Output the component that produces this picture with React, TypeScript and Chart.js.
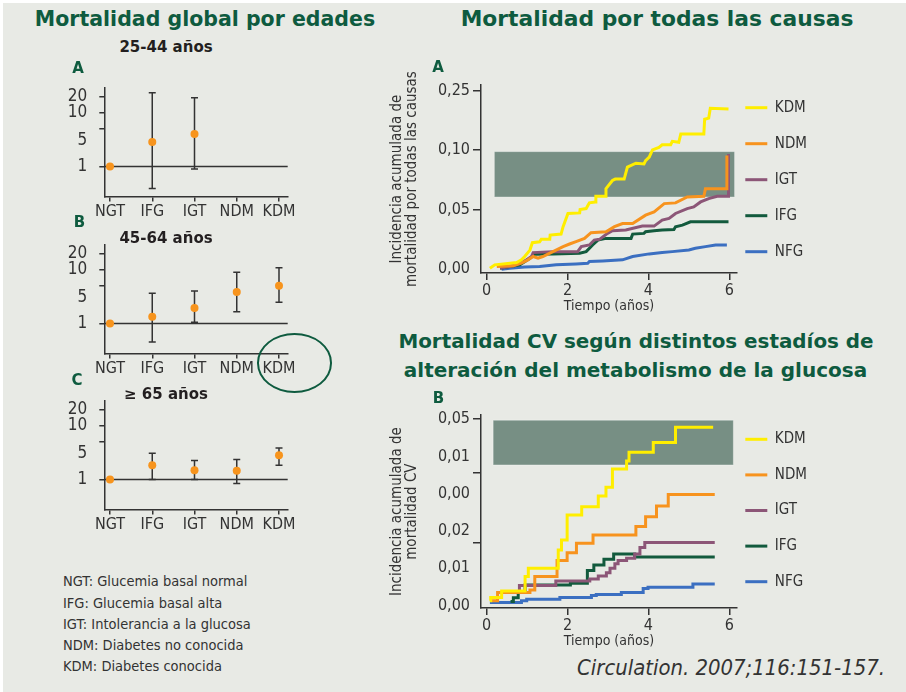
import React, { useEffect, useRef } from 'react';
import { Chart, registerables } from 'chart.js';

Chart.register(...registerables);

// ---------- data: left panels (hazard ratio, log scale) ----------
const groups = ['NGT', 'IFG', 'IGT', 'NDM', 'KDM'];
const logTicks = [1, 5, 10, 20];

const hr2544 = [1, 2.85, 4.06, null, null];
const lo2544 = [null, 0.385, 0.9, null, null];
const hi2544 = [null, 23.9, 19.3, null, null];

const hr4564 = [1, 1.33, 1.94, 3.87, 5.07];
const lo4564 = [null, 0.45, 1.05, 1.65, 2.48];
const hi4564 = [null, 3.65, 4.04, 9.05, 11.0];

const hr65 = [1, 1.85, 1.49, 1.45, 2.84];
const lo65 = [null, 1.0, 1.0, 0.84, 1.85];
const hi65 = [null, 3.1, 2.26, 2.36, 3.89];

// ---------- data: all-cause cumulative incidence ----------
const timeTicks = [0, 2, 4, 6];
const allTicks = [0, 0.05, 0.1, 0.15];
const allTickLabels = ['0,00', '0,05', '0,10', '0,25'];
const allTickMarks = [0.05, 0.1, 0.15];

const allKdmT = [0.08, 0.2, 0.74, 0.86, 0.94, 1.07, 1.13, 1.31, 1.35, 1.56, 1.57, 1.84, 1.89, 2.01, 2.3, 2.31, 2.46, 2.54, 2.69, 2.7, 2.93, 2.95, 3.11, 3.18, 3.4, 3.48, 3.69, 3.89, 3.93, 4.02, 4.1, 4.26, 4.34, 4.55, 4.59, 4.75, 4.8, 5.37, 5.39, 5.49, 5.53, 5.98];
const allKdmY = [0.0008, 0.0036, 0.0056, 0.0078, 0.0106, 0.016, 0.0222, 0.023, 0.025, 0.025, 0.0286, 0.0294, 0.0356, 0.0467, 0.0472, 0.05, 0.0508, 0.0556, 0.0564, 0.0611, 0.0611, 0.0675, 0.0744, 0.0756, 0.0756, 0.0856, 0.0889, 0.0883, 0.0911, 0.0939, 0.1, 0.1022, 0.1044, 0.1044, 0.1072, 0.1064, 0.1133, 0.1133, 0.1258, 0.1267, 0.135, 0.1344];

const allNdmT = [0.25, 0.66, 0.86, 1.02, 1.15, 1.27, 1.39, 1.64, 1.89, 2.05, 2.21, 2.42, 2.58, 2.95, 3.16, 3.36, 3.61, 3.93, 4.14, 4.39, 4.67, 4.96, 5.37, 5.41, 5.92, 5.94];
const allNdmY = [0.0022, 0.0028, 0.005, 0.0078, 0.0106, 0.0092, 0.0106, 0.0147, 0.0189, 0.0211, 0.0231, 0.0258, 0.0306, 0.0314, 0.0356, 0.0383, 0.0383, 0.0453, 0.0481, 0.055, 0.0556, 0.0606, 0.0611, 0.0675, 0.0675, 0.0953];

const allIgtT = [0.33, 0.66, 0.94, 1.11, 1.15, 1.64, 2.25, 2.34, 2.54, 2.66, 2.79, 2.99, 3.11, 3.44, 3.85, 4.14, 4.34, 4.51, 4.67, 4.96, 5.12, 5.29, 5.49, 5.7, 5.97, 5.98];
const allIgtY = [0.0008, 0.0028, 0.0069, 0.0106, 0.0139, 0.0147, 0.0147, 0.0189, 0.0203, 0.0244, 0.025, 0.03, 0.0322, 0.0328, 0.0361, 0.0361, 0.0411, 0.0425, 0.0467, 0.0508, 0.0522, 0.0564, 0.0592, 0.0611, 0.0611, 0.0967];

const allIfgT = [0.33, 0.82, 1.07, 1.19, 1.64, 2.3, 2.46, 2.62, 2.75, 2.95, 3.57, 3.61, 3.89, 3.93, 4.14, 4.34, 4.63, 4.67, 4.84, 5.04, 5.98];
const allIfgY = [0.0008, 0.0036, 0.0092, 0.0125, 0.0128, 0.0133, 0.0147, 0.0203, 0.0244, 0.0258, 0.0258, 0.0294, 0.03, 0.0314, 0.0322, 0.0328, 0.0333, 0.0356, 0.0369, 0.0397, 0.0397];

const allNfgT = [0.37, 0.57, 0.94, 1.31, 1.72, 2.21, 2.5, 2.54, 2.87, 3.36, 3.61, 4.02, 4.34, 4.59, 5.0, 5.16, 5.41, 5.66, 5.94];
const allNfgY = [0.0, 0.0008, 0.0017, 0.0022, 0.0036, 0.0044, 0.005, 0.0064, 0.0069, 0.0078, 0.0106, 0.0128, 0.0139, 0.0147, 0.0161, 0.0175, 0.0189, 0.0203, 0.0203];

// ---------- data: CV cumulative incidence ----------
const cvTicks = [0, 0.01, 0.0169, 0.02, 0.03, 0.0357, 0.04, 0.05];
const cvTickLabels = ['0,00', '0,01', '', '0,02', '0,00', '', '0,01', '0,05'];
const cvTickMarks = [0.0169, 0.0357, 0.05];

const cvKdmT = [0.08, 0.1, 0.37, 0.95, 1.03, 1.77, 1.85, 1.99, 2.35, 2.76, 2.95, 3.11, 3.46, 3.52, 4.12, 4.67, 5.6];
const cvKdmY = [0.0013, 0.0022, 0.0039, 0.0078, 0.01, 0.0149, 0.0176, 0.0243, 0.0265, 0.0294, 0.0317, 0.0366, 0.0388, 0.0411, 0.0437, 0.0478, 0.0478];

const cvNdmT = [0.12, 0.27, 1.07, 1.19, 1.74, 1.99, 2.22, 2.63, 3.69, 3.93, 4.2, 4.49, 5.64];
const cvNdmY = [0.0013, 0.0035, 0.0042, 0.0078, 0.0121, 0.0142, 0.0167, 0.0189, 0.0212, 0.0238, 0.0267, 0.0298, 0.0298];

const cvIgtT = [0.75, 0.81, 1.71, 2.55, 2.76, 2.96, 3.05, 3.17, 3.25, 3.46, 3.66, 3.79, 3.91, 5.64];
const cvIgtY = [0.0038, 0.0054, 0.0066, 0.0071, 0.0079, 0.0088, 0.01, 0.0112, 0.0121, 0.0127, 0.0138, 0.0156, 0.0169, 0.0169];

const cvIfgT = [0.59, 0.66, 0.78, 0.95, 2.07, 2.49, 2.65, 2.9, 3.14, 3.66, 5.64];
const cvIfgY = [0.0011, 0.0021, 0.0038, 0.0055, 0.006, 0.0094, 0.0109, 0.0124, 0.0138, 0.013, 0.013];

const cvNfgT = [0.08, 0.86, 0.99, 1.81, 2.59, 2.71, 3.33, 3.87, 3.99, 5.1, 5.64];
const cvNfgY = [0.0008, 0.0013, 0.0017, 0.0022, 0.0027, 0.003, 0.0035, 0.0046, 0.0049, 0.0058, 0.0058];

// shaded band (time from, time to, value from, value to)
const allBand = [0.19, 6.13, 0.0605, 0.0986];
const cvBand = [0.16, 6.1, 0.0377, 0.0497];

const footnotes = [
  'NGT: Glucemia basal normal',
  'IFG: Glucemia basal alta',
  'IGT: Intolerancia a la glucosa',
  'NDM: Diabetes no conocida',
  'KDM: Diabetes conocida',
];

// ---------- styles ----------
const BG = '#e8eae5';
const GREEN = '#0e5b3f';
const AXIS = '#333333';
const TEXT = '#333333';
const ORANGE = '#f7941d';
const SHADE = '#778f84';
const C_KDM = '#ffee00';
const C_NDM = '#f7931e';
const C_IGT = '#8c5677';
const C_IFG = '#125a3d';
const C_NFG = '#3b6fc1';
const FONT = "'DejaVu Sans Condensed', 'Liberation Sans Narrow', 'DejaVu Sans', sans-serif";
const TITLE_FONT = "'DejaVu Sans', sans-serif";

Chart.defaults.font.family = FONT;
Chart.defaults.color = TEXT;

function errorBarPlugin(lo: (number | null)[], hi: (number | null)[]) {
  return {
    id: 'errorBars',
    beforeDatasetsDraw(chart: any) {
      const { ctx, scales } = chart;
      const x = scales.x, y = scales.y;
      ctx.save();
      ctx.strokeStyle = AXIS;
      ctx.lineWidth = 1.5;
      lo.forEach((l, i) => {
        const h = hi[i];
        if (l == null || h == null) return;
        const px = x.getPixelForValue(i);
        const y1 = y.getPixelForValue(l);
        const y2 = y.getPixelForValue(h);
        ctx.beginPath();
        ctx.moveTo(px, y1); ctx.lineTo(px, y2);
        ctx.moveTo(px - 3.5, y1); ctx.lineTo(px + 3.5, y1);
        ctx.moveTo(px - 3.5, y2); ctx.lineTo(px + 3.5, y2);
        ctx.stroke();
      });
      ctx.restore();
    },
  };
}

const refLinePlugin = {
  id: 'refLine',
  beforeDatasetsDraw(chart: any) {
    const { ctx, chartArea, scales } = chart;
    const py = scales.y.getPixelForValue(1);
    ctx.save();
    ctx.strokeStyle = AXIS;
    ctx.lineWidth = 1.5;
    ctx.beginPath();
    ctx.moveTo(chartArea.left, py);
    ctx.lineTo(chartArea.right, py);
    ctx.stroke();
    ctx.restore();
  },
};

function bandPlugin(band: number[]) {
  return {
    id: 'band',
    beforeDatasetsDraw(chart: any) {
      const { ctx, scales } = chart;
      const x0 = scales.x.getPixelForValue(band[0]);
      const x1 = scales.x.getPixelForValue(band[1]);
      const y0 = scales.y.getPixelForValue(band[3]);
      const y1 = scales.y.getPixelForValue(band[2]);
      ctx.save();
      ctx.fillStyle = SHADE;
      ctx.fillRect(x0, y0, x1 - x0, y1 - y0);
      ctx.strokeStyle = 'rgba(255,255,255,0.35)';
      ctx.lineWidth = 1;
      ctx.strokeRect(x0, y0, x1 - x0, y1 - y0);
      ctx.restore();
    },
  };
}

const PANEL_PAD_TOP = 30;

function panelConfig(hr: (number | null)[], lo: (number | null)[], hi: (number | null)[]) {
  const pts: { x: number; y: number }[] = [];
  hr.forEach((v, i) => { if (v != null) pts.push({ x: i, y: v }); });
  return {
    type: 'scatter',
    data: {
      datasets: [{
        data: pts,
        backgroundColor: ORANGE,
        borderColor: ORANGE,
        pointRadius: 4,
        pointBorderWidth: 0,
      }],
    },
    options: {
      responsive: false,
      animation: false,
      devicePixelRatio: 1,
      layout: { padding: { top: PANEL_PAD_TOP, left: 0, right: 22.3, bottom: 5.5 } },
      plugins: { legend: { display: false }, tooltip: { enabled: false } },
      scales: {
        x: {
          type: 'linear',
          min: -0.135,
          max: 4.206,
          afterBuildTicks: (s: any) => { s.ticks = groups.map((_, i) => ({ value: i })); },
          afterFit: (s: any) => { s.height = 24; },
          ticks: {
            callback: (v: number) => groups[Math.round(v)],
            font: { size: 16 },
            color: TEXT,
            padding: 1,
            autoSkip: false,
            maxRotation: 0,
          },
          grid: { drawOnChartArea: false, tickLength: 5, color: AXIS, lineWidth: 1.5 },
          border: { color: AXIS, width: 1.5 },
        },
        y: {
          type: 'logarithmic',
          min: 0.274,
          max: 29.3,
          afterBuildTicks: (s: any) => { s.ticks = logTicks.map((v) => ({ value: v })); },
          afterFit: (s: any) => { s.width = 64.3; },
          ticks: {
            // the printed "5" sits below its tick mark in the source figure
            callback: (v: number) => (v === 5 ? ['', '5'] : String(v)),
            font: (c: any) => ({ size: 17, lineHeight: c.tick && c.tick.value === 5 ? '24px' : 1.2 }),
            color: TEXT,
            padding: 12,
            autoSkip: false,
          },
          grid: { drawOnChartArea: false, tickLength: 5, color: AXIS, lineWidth: 1.5 },
          border: { color: AXIS, width: 1.5 },
        },
      },
    },
    plugins: [errorBarPlugin(lo, hi), refLinePlugin],
  };
}

type Series = { label: string; t: number[]; y: number[]; color: string };

function curveConfig(opts: {
  series: Series[];
  yMin: number; yMax: number;
  yTicks: number[]; yLabels: string[]; yMarks: number[];
  yTitle: string[];
  stepped: boolean;
  band: number[];
  legendTop: number;
  legendStep: number;
}) {
  return {
    type: 'line',
    data: {
      datasets: opts.series.map((s) => ({
        label: s.label,
        data: s.t.map((x, i) => ({ x, y: s.y[i] })),
        borderColor: s.color,
        backgroundColor: s.color,
        borderWidth: 3,
        pointRadius: 0,
        tension: 0,
        fill: false,
        stepped: opts.stepped ? 'before' : false,
      })),
    },
    options: {
      responsive: false,
      animation: false,
      devicePixelRatio: 1,
      layout: { padding: { top: 25, left: 0, right: 0, bottom: 5 } },
      plugins: {
        tooltip: { enabled: false },
        legend: {
          position: 'right',
          align: 'start',
          title: { display: true, text: '', padding: 0, font: { size: 4, lineHeight: opts.legendTop + 'px' } },
          labels: {
            usePointStyle: true,
            pointStyle: 'line',
            pointStyleWidth: 22,
            padding: 8.3,
            color: TEXT,
            font: { size: 15, lineHeight: opts.legendStep + 'px' },
            generateLabels: (chart: any) => chart.data.datasets.map((ds: any, i: number) => ({
              text: [ds.label],
              fillStyle: ds.borderColor,
              strokeStyle: ds.borderColor,
              lineWidth: 3,
              pointStyle: 'line',
              hidden: false,
              datasetIndex: i,
              fontColor: TEXT,
            })),
          },
        },
      },
      scales: {
        x: {
          type: 'linear',
          min: -0.14,
          max: 6.19,
          afterBuildTicks: (s: any) => { s.ticks = timeTicks.map((v) => ({ value: v })); },
          afterFit: (s: any) => { s.height = 41.8; },
          ticks: { callback: (v: number) => String(v), font: { size: 16 }, color: TEXT, padding: 1, maxRotation: 0, autoSkip: false },
          grid: { drawOnChartArea: false, tickLength: 6.7, color: AXIS, lineWidth: 1.5 },
          border: { color: AXIS, width: 1.5 },
          title: { display: true, text: 'Tiempo (años)', color: TEXT, font: { size: 14, lineHeight: 1.2 }, padding: { top: 0, bottom: 0 } },
        },
        y: {
          type: 'linear',
          min: opts.yMin,
          max: opts.yMax,
          afterBuildTicks: (s: any) => { s.ticks = opts.yTicks.map((v) => ({ value: v })); },
          afterFit: (s: any) => { s.width = 96; },
          ticks: {
            callback: (_v: number, i: number) => opts.yLabels[i],
            font: { size: 16 },
            color: TEXT,
            padding: 3,
            autoSkip: false,
          },
          grid: {
            drawOnChartArea: false,
            tickLength: 8,
            lineWidth: 1.5,
            tickColor: (c: any) => (c.tick && opts.yMarks.includes(c.tick.value) ? AXIS : 'rgba(0,0,0,0)'),
          },
          border: { color: AXIS, width: 1.5 },
          title: { display: true, text: opts.yTitle, color: TEXT, font: { size: 15, lineHeight: '15px' }, padding: { top: 4.2, bottom: 0 } },
        },
      },
    },
    plugins: [bandPlugin(opts.band)],
  };
}

function ChartCanvas({ left, top, width, height, make, areaRight }: { left: number; top: number; width: number; height: number; make: () => any; areaRight?: number }) {
  const ref = useRef<HTMLCanvasElement>(null);
  useEffect(() => {
    const chart: any = new Chart(ref.current as HTMLCanvasElement, make());
    if (areaRight != null) {
      // move the plot's right edge (legend follows it) to the wanted x
      const d = chart.chartArea.right - areaRight;
      const p = chart.options.layout.padding;
      chart.options.layout.padding = { top: p.top, left: p.left, bottom: p.bottom, right: Math.max(0, d) };
      chart.update();
    }
    return () => chart.destroy();
  }, []);
  return (
    <canvas
      ref={ref}
      width={width}
      height={height}
      style={{ position: 'absolute', left, top, width, height }}
    />
  );
}

function Txt({ x, y, children, style }: { x: number; y: number; children: any; style: any }) {
  return (
    <div
      style={{
        position: 'absolute',
        left: x,
        top: y,
        transform: 'translate(-50%, -50%)',
        whiteSpace: 'nowrap',
        lineHeight: 1,
        ...style,
      }}
    >
      {children}
    </div>
  );
}

const titleStyle = { fontFamily: TITLE_FONT, fontWeight: 'bold', color: GREEN, fontSize: 20.5 };
const subStyle = { fontFamily: TITLE_FONT, fontWeight: 'bold', color: '#231f20', fontSize: 15 };
const letterStyle = { fontFamily: TITLE_FONT, fontWeight: 'bold', color: GREEN, fontSize: 15 };

const allSeries: Series[] = [
  { label: 'KDM', t: allKdmT, y: allKdmY, color: C_KDM },
  { label: 'NDM', t: allNdmT, y: allNdmY, color: C_NDM },
  { label: 'IGT', t: allIgtT, y: allIgtY, color: C_IGT },
  { label: 'IFG', t: allIfgT, y: allIfgY, color: C_IFG },
  { label: 'NFG', t: allNfgT, y: allNfgY, color: C_NFG },
];

const cvSeries: Series[] = [
  { label: 'KDM', t: cvKdmT, y: cvKdmY, color: C_KDM },
  { label: 'NDM', t: cvNdmT, y: cvNdmY, color: C_NDM },
  { label: 'IGT', t: cvIgtT, y: cvIgtY, color: C_IGT },
  { label: 'IFG', t: cvIfgT, y: cvIfgY, color: C_IFG },
  { label: 'NFG', t: cvNfgT, y: cvNfgY, color: C_NFG },
];

export default function App() {
  const ph = 150 + PANEL_PAD_TOP - 12;
  return (
    <div style={{ position: 'absolute', left: 0, top: 0, width: 906, height: 692, background: '#ffffff', overflow: 'hidden' }}>
      <div style={{ position: 'absolute', left: 3, top: 3, width: 903, height: 689, background: BG }} />

      {/* left panels (plot tops at 88, 245, 400.7) */}
      <ChartCanvas left={40} top={88 - PANEL_PAD_TOP} width={270} height={ph} make={() => panelConfig(hr2544, lo2544, hi2544)} />
      <ChartCanvas left={40} top={245 - PANEL_PAD_TOP} width={270} height={ph} make={() => panelConfig(hr4564, lo4564, hi4564)} />
      <ChartCanvas left={40} top={400.7 - PANEL_PAD_TOP} width={270} height={ph} make={() => panelConfig(hr65, lo65, hi65)} />

      {/* right panels */}
      <ChartCanvas
        left={385} top={60} width={472} height={260} areaRight={352}
        make={() => curveConfig({
          series: allSeries,
          yMin: -0.0034, yMax: 0.1545,
          yTicks: allTicks, yLabels: allTickLabels, yMarks: allTickMarks,
          yTitle: ['Incidencia acumulada de', 'mortalidad por todas las causas'],
          stepped: false,
          band: allBand,
          legendTop: 6.9,
          legendStep: 27.7,
        })}
      />
      <ChartCanvas
        left={385} top={390} width={472} height={265} areaRight={352}
        make={() => curveConfig({
          series: cvSeries,
          yMin: -0.0007, yMax: 0.0511,
          yTicks: cvTicks, yLabels: cvTickLabels, yMarks: cvTickMarks,
          yTitle: ['Incidencia acumulada de', 'mortalidad CV'],
          stepped: true,
          band: cvBand,
          legendTop: 8.5,
          legendStep: 27.3,
        })}
      />

      {/* titles */}
      <Txt x={205} y={19} style={titleStyle}>Mortalidad global por edades</Txt>
      <Txt x={657} y={19} style={{ ...titleStyle, fontSize: 21.8 }}>Mortalidad por todas las causas</Txt>
      <Txt x={636} y={342} style={{ ...titleStyle, fontSize: 19.9 }}>Mortalidad CV según distintos estadíos de</Txt>
      <Txt x={635.5} y={370} style={{ ...titleStyle, fontSize: 20 }}>alteración del metabolismo de la glucosa</Txt>

      <Txt x={166} y={47} style={subStyle}>25-44 años</Txt>
      <Txt x={166} y={237.5} style={subStyle}>45-64 años</Txt>
      <Txt x={166} y={394} style={subStyle}>≥ 65 años</Txt>

      <Txt x={78} y={68} style={letterStyle}>A</Txt>
      <Txt x={79.5} y={222} style={letterStyle}>B</Txt>
      <Txt x={77} y={380} style={letterStyle}>C</Txt>
      <Txt x={438} y={67} style={letterStyle}>A</Txt>
      <Txt x={438.5} y={398} style={letterStyle}>B</Txt>

      {/* highlight ellipse */}
      <div style={{ position: 'absolute', left: 257, top: 333.3, width: 75, height: 59.4, border: '2px solid ' + GREEN, borderRadius: '50%', boxSizing: 'border-box' }} />

      {/* footnotes */}
      <div style={{ position: 'absolute', left: 63, top: 571.4, fontFamily: FONT, fontSize: 14.5, lineHeight: '21.25px', color: TEXT, whiteSpace: 'nowrap' }}>
        {footnotes.map((f) => <div key={f}>{f}</div>)}
      </div>

      <div style={{ position: 'absolute', right: 21, top: 656, fontFamily: FONT, fontStyle: 'italic', fontSize: 21.9, lineHeight: '24px', color: TEXT, whiteSpace: 'nowrap' }}>
        Circulation. 2007;116:151-157.
      </div>
    </div>
  );
}
